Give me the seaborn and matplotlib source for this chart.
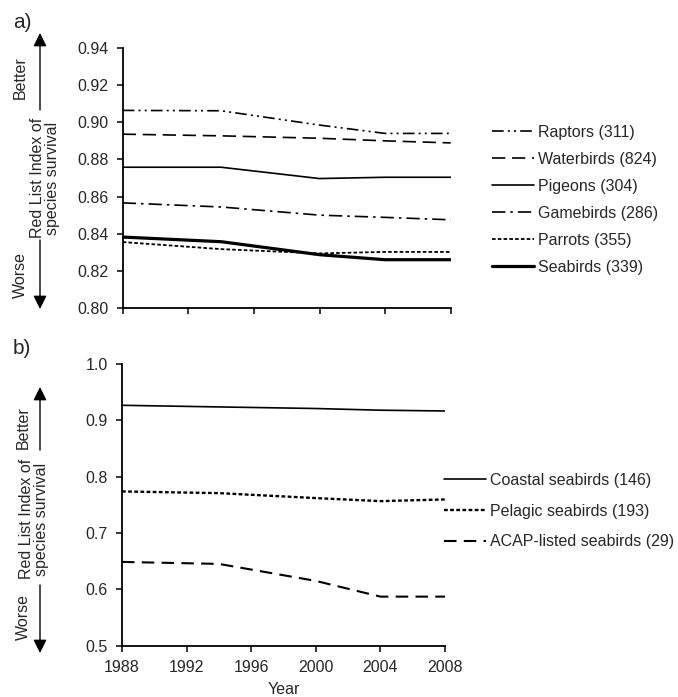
import matplotlib
matplotlib.use("Agg")
import matplotlib.pyplot as plt
from matplotlib.patches import FancyArrowPatch
from matplotlib.ticker import FormatStrFormatter
import seaborn as sns

# data
years = [1988, 1994, 2000, 2004, 2008]

raptors = [0.9064, 0.9062, 0.8985, 0.8940, 0.8940]
waterbirds = [0.8936, 0.8927, 0.8914, 0.8900, 0.8889]
pigeons = [0.8758, 0.8758, 0.8697, 0.8704, 0.8704]
gamebirds = [0.8566, 0.8544, 0.8500, 0.8488, 0.8475]
parrots = [0.8355, 0.8317, 0.8294, 0.8302, 0.8302]
seabirds = [0.8382, 0.8357, 0.8287, 0.8260, 0.8260]

coastal = [0.9267, 0.9238, 0.9210, 0.9180, 0.9166]
pelagic = [0.7738, 0.7708, 0.7620, 0.7566, 0.7596]
acap = [0.6487, 0.6452, 0.6150, 0.5871, 0.5871]

labels_a = ["Raptors (311)", "Waterbirds (824)", "Pigeons (304)",
            "Gamebirds (286)", "Parrots (355)", "Seabirds (339)"]
labels_b = ["Coastal seabirds (146)", "Pelagic seabirds (193)",
            "ACAP-listed seabirds (29)"]

sns.set_style("ticks")
plt.rcParams["font.family"] = ["Liberation Sans", "DejaVu Sans"]
plt.rcParams["font.size"] = 11.5

W, H = 678, 697
def fx(x):
    return x / W
def fy(y):
    return 1 - y / H

fig = plt.figure(figsize=(6.78, 6.97), dpi=100)
ax1 = fig.add_axes([fx(122.7), fy(308), (450.7 - 122.7) / W, (308 - 48) / H])
ax2 = fig.add_axes([fx(122), fy(645.7), (445 - 122) / W, (645.7 - 364) / H])

# panel a
styles_a = [
    dict(linestyle=(0, (7, 2.5, 1.2, 2.5, 1.2, 2.5)), linewidth=1.2),
    dict(linestyle=(0, (8, 4)), linewidth=1.2),
    dict(linestyle="-", linewidth=1.2),
    dict(linestyle=(0, (8, 3, 1.5, 3)), linewidth=1.2),
    dict(linestyle=(0, (2, 1.2)), linewidth=1.3),
    dict(linestyle="-", linewidth=2.3),
]
for vals, lab, st in zip([raptors, waterbirds, pigeons, gamebirds, parrots, seabirds], labels_a, styles_a):
    sns.lineplot(x=years, y=vals, ax=ax1, color="black", label=lab, **st)

# panel b
styles_b = [
    dict(linestyle="-", linewidth=1.2),
    dict(linestyle=(0, (1.6, 1.0)), linewidth=1.7),
    dict(linestyle=(0, (6, 3.5)), linewidth=1.5),
]
for vals, lab, st in zip([coastal, pelagic, acap], labels_b, styles_b):
    sns.lineplot(x=years, y=vals, ax=ax2, color="black", label=lab, **st)

for ax in (ax1, ax2):
    ax.set_xlim(1988, 2008)
    ax.set_xticks(range(1988, 2009, 4))
    sns.despine(ax=ax)
    for s in ("left", "bottom"):
        ax.spines[s].set_linewidth(1.3)
        ax.spines[s].set_color("black")
    ax.tick_params(direction="out", length=4, width=1.1, color="black", pad=6, labelsize=11.5)
    ax.set_ylabel("")

ax1.set_ylim(0.80, 0.94)
ax1.set_yticks([0.80, 0.82, 0.84, 0.86, 0.88, 0.90, 0.92, 0.94])
ax1.yaxis.set_major_formatter(FormatStrFormatter("%.2f"))
ax1.set_xticklabels([])
ax1.set_xlabel("")

ax2.set_ylim(0.5, 1.0)
ax2.set_yticks([0.5, 0.6, 0.7, 0.8, 0.9, 1.0])
ax2.yaxis.set_major_formatter(FormatStrFormatter("%.1f"))
ax2.set_xlabel("Year", fontsize=11.5, labelpad=5)

ax1.legend(loc="upper left", bbox_to_anchor=(fx(492), fy(125)), bbox_transform=fig.transFigure,
           frameon=False, fontsize=11.5, handlelength=2.6, handletextpad=0.3,
           labelspacing=0.75, borderpad=0, borderaxespad=0)
ax2.legend(loc="upper left", bbox_to_anchor=(fx(444), fy(473)), bbox_transform=fig.transFigure,
           frameon=False, fontsize=11.5, handlelength=2.6, handletextpad=0.3,
           labelspacing=0.98, borderpad=0, borderaxespad=0)

# panel letters
fig.text(fx(13), fy(22), "a)", fontsize=15, va="center", ha="left")
fig.text(fx(13), fy(349), "b)", fontsize=15, va="center", ha="left")

# y axis labels with better/worse arrows
def side_label(better_y, worse_y, rl_x, rl_y, txt_x, up, down):
    fig.text(fx(txt_x), fy(better_y), "Better", rotation=90, ha="center", va="center", fontsize=11.5)
    fig.text(fx(txt_x), fy(worse_y), "Worse", rotation=90, ha="center", va="center", fontsize=11.5)
    fig.text(fx(rl_x), fy(rl_y), "Red List Index of\nspecies survival", rotation=90,
             ha="center", va="center", fontsize=11.5, multialignment="center", linespacing=1.05)
    for a, b in (up, down):
        fig.add_artist(FancyArrowPatch((fx(40), fy(a)), (fx(40), fy(b)), transform=fig.transFigure,
                                       arrowstyle="-|>", mutation_scale=20, color="black", lw=1.0,
                                       shrinkA=0, shrinkB=0))

side_label(78, 275, 45, 178, 20, (110, 33), (240, 309))
side_label(428, 617, 34, 519, 23, (450, 387), (585, 653))

fig.savefig("out.png", dpi=100)
